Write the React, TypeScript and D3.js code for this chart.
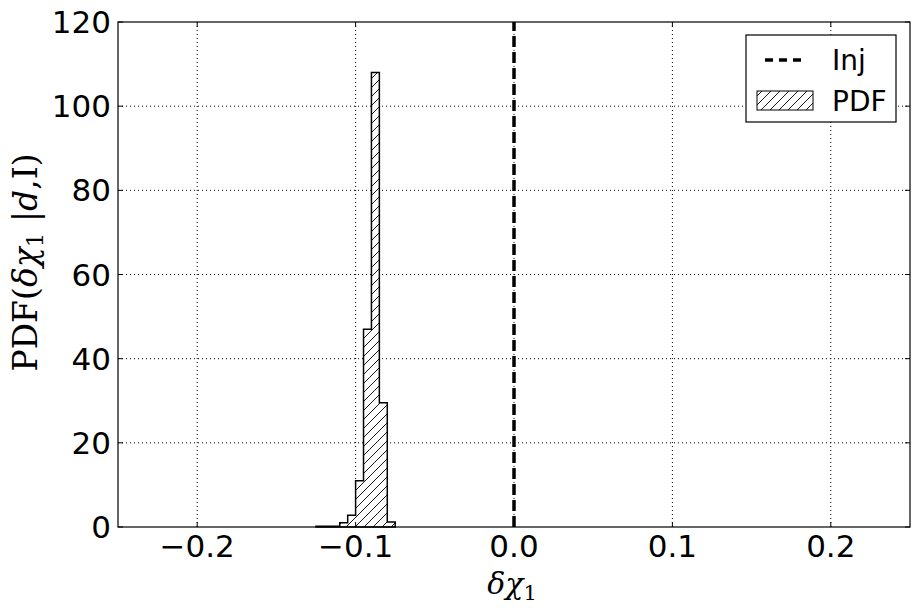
import React, { useRef, useEffect } from 'react';
import * as d3 from 'd3';

// histogram bins (left edge) and density values
const binStarts = [-0.125, -0.12, -0.115, -0.11, -0.105, -0.1, -0.095, -0.09, -0.085, -0.08];
const binValues = [0.2, 0.2, 0.2, 1.0, 2.8, 11, 47, 108, 29.5, 1.2];
const binWidth = 0.005;
const injValue = 0.0;
const xTicks = [-0.2, -0.1, 0.0, 0.1, 0.2];
const yTicks = [0, 20, 40, 60, 80, 100, 120];

function App() {
  const svgRef = useRef<SVGSVGElement>(null);

  useEffect(() => {
    const width = 919;
    const height = 611;
    const marginLeft = 118;
    const marginRight = 9;
    const marginTop = 22;
    const marginBottom = 84;

    const x = d3.scaleLinear().domain([-0.25, 0.25]).range([marginLeft, width - marginRight]);
    const y = d3.scaleLinear().domain([0, 120]).range([height - marginBottom, marginTop]);

    const svg = d3.select(svgRef.current);
    svg.selectAll('*').remove();
    svg.attr('width', width).attr('height', height).attr('viewBox', [0, 0, width, height].join(' '));

    svg.append('rect').attr('width', width).attr('height', height).attr('fill', 'white');

    const defs = svg.append('defs');
    const pat = defs.append('pattern')
      .attr('id', 'hatch')
      .attr('patternUnits', 'userSpaceOnUse')
      .attr('width', 9)
      .attr('height', 9);
    pat.append('rect').attr('width', 9).attr('height', 9).attr('fill', 'white');
    pat.append('path')
      .attr('d', 'M-1,1 l2,-2 M0,9 l9,-9 M8,10 l2,-2')
      .attr('stroke', 'black')
      .attr('stroke-width', 0.9);

    const x0 = x.range()[0], x1 = x.range()[1];
    const y0 = y.range()[0], y1 = y.range()[1];

    // grid
    const grid = svg.append('g').attr('stroke', 'black').attr('stroke-width', 1).attr('stroke-dasharray', '1,3');
    xTicks.forEach(t => {
      grid.append('line').attr('x1', x(t)).attr('x2', x(t)).attr('y1', y0).attr('y2', y1);
    });
    yTicks.slice(1, -1).forEach(t => {
      grid.append('line').attr('x1', x0).attr('x2', x1).attr('y1', y(t)).attr('y2', y(t));
    });

    // histogram as step outline
    const pts: [number, number][] = [];
    pts.push([x(binStarts[0]), y(0)]);
    binStarts.forEach((b, i) => {
      pts.push([x(b), y(binValues[i])]);
      pts.push([x(b + binWidth), y(binValues[i])]);
    });
    pts.push([x(binStarts[binStarts.length - 1] + binWidth), y(0)]);
    svg.append('path')
      .attr('d', d3.line()(pts) + 'Z')
      .attr('fill', 'url(#hatch)')
      .attr('stroke', 'black')
      .attr('stroke-width', 1.5)
      .attr('stroke-linejoin', 'miter');

    // injection line
    svg.append('line')
      .attr('x1', x(injValue)).attr('x2', x(injValue))
      .attr('y1', y0).attr('y2', y1)
      .attr('stroke', 'black')
      .attr('stroke-width', 3.5)
      .attr('stroke-dasharray', '11,5');

    // frame
    svg.append('rect')
      .attr('x', x0).attr('y', y1)
      .attr('width', x1 - x0).attr('height', y0 - y1)
      .attr('fill', 'none').attr('stroke', 'black').attr('stroke-width', 1.2);

    // ticks (inward, all sides)
    const tk = svg.append('g').attr('stroke', 'black').attr('stroke-width', 1);
    xTicks.forEach(t => {
      tk.append('line').attr('x1', x(t)).attr('x2', x(t)).attr('y1', y0).attr('y2', y0 - 5);
      tk.append('line').attr('x1', x(t)).attr('x2', x(t)).attr('y1', y1).attr('y2', y1 + 5);
    });
    yTicks.forEach(t => {
      tk.append('line').attr('x1', x0).attr('x2', x0 + 5).attr('y1', y(t)).attr('y2', y(t));
      tk.append('line').attr('x1', x1).attr('x2', x1 - 5).attr('y1', y(t)).attr('y2', y(t));
    });

    const fmt = (v: number) => (v < 0 ? '\u2212' : '') + d3.format('.1f')(Math.abs(v));
    const labels = svg.append('g')
      .attr('font-family', 'DejaVu Sans, sans-serif')
      .attr('font-size', 31)
      .attr('fill', 'black');
    xTicks.forEach(t => {
      labels.append('text')
        .attr('x', x(t)).attr('y', y0 + 30)
        .attr('text-anchor', 'middle')
        .text(fmt(t));
    });
    yTicks.forEach(t => {
      labels.append('text')
        .attr('x', x0 - 7).attr('y', y(t) + 11)
        .attr('text-anchor', 'end')
        .text(String(t));
    });

    // axis labels
    const xl = svg.append('text')
      .attr('x', (x0 + x1) / 2 - 2).attr('y', 594)
      .attr('text-anchor', 'middle')
      .attr('font-family', 'DejaVu Serif, serif')
      .attr('font-size', 30);
    xl.append('tspan').attr('font-style', 'italic').text('δχ');
    xl.append('tspan').attr('font-size', 21).attr('dy', 6).text('1');

    const yl = svg.append('text')
      .attr('transform', `translate(37,${(y0 + y1) / 2 - 12}) rotate(-90)`)
      .attr('text-anchor', 'middle')
      .attr('font-family', 'DejaVu Serif, serif')
      .attr('font-size', 33);
    yl.append('tspan').text('PDF(');
    yl.append('tspan').attr('font-style', 'italic').text('δχ');
    yl.append('tspan').attr('font-size', 23).attr('dy', 6).text('1');
    yl.append('tspan').attr('dy', -6).text(' |');
    yl.append('tspan').attr('font-style', 'italic').text('d');
    yl.append('tspan').text(',I)');

    // legend
    const lg = svg.append('g').attr('transform', 'translate(746,35)');
    lg.append('rect').attr('width', 150).attr('height', 87)
      .attr('fill', 'white').attr('stroke', 'black').attr('stroke-width', 1.2);
    lg.append('line').attr('x1', 19).attr('x2', 59).attr('y1', 25).attr('y2', 25)
      .attr('stroke', 'black').attr('stroke-width', 3.5).attr('stroke-dasharray', '8,6');
    lg.append('rect').attr('x', 11).attr('y', 56).attr('width', 56).attr('height', 19)
      .attr('fill', 'url(#hatch)').attr('stroke', 'black').attr('stroke-width', 1);
    lg.append('text').attr('x', 86).attr('y', 35)
      .attr('font-family', 'DejaVu Sans, sans-serif').attr('font-size', 28).text('Inj');
    lg.append('text').attr('x', 86).attr('y', 76)
      .attr('font-family', 'DejaVu Sans, sans-serif').attr('font-size', 28).text('PDF');
  }, []);

  return (
    <div style={{ position: 'absolute', left: 0, top: 0 }}>
      <svg ref={svgRef}></svg>
    </div>
  );
}

export default App;
